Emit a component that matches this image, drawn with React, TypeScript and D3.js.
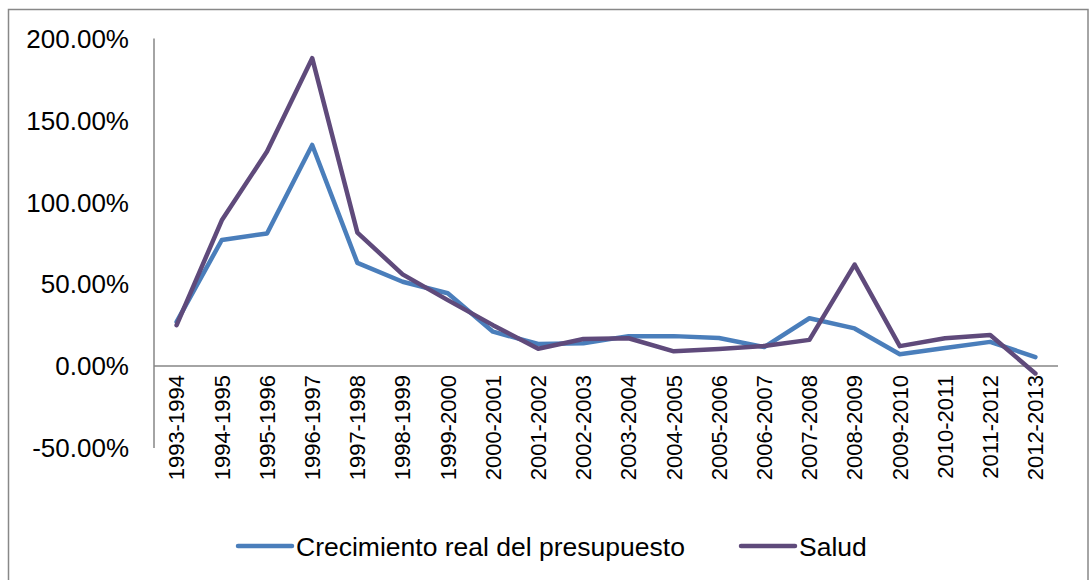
import React from "react";
import * as d3 from "d3";

const categories = [
  "1993-1994", "1994-1995", "1995-1996", "1996-1997", "1997-1998", "1998-1999",
  "1999-2000", "2000-2001", "2001-2002", "2002-2003", "2003-2004", "2004-2005",
  "2005-2006", "2006-2007", "2007-2008", "2008-2009", "2009-2010", "2010-2011",
  "2011-2012", "2012-2013",
];
const crecimiento = [27, 77, 81, 135, 63, 51.5, 44.5, 21, 13.5, 14, 18.3, 18.3, 17.2, 11.6, 29.2, 23, 7.2, 11, 14.8, 5.5];
const salud = [25, 89, 131, 188, 81.5, 56, 40.3, 25, 10.6, 16.5, 17, 9, 10.4, 12.3, 16, 62, 12.2, 17, 19, -4.5];
const yTicks = [-50, 0, 50, 100, 150, 200];

const seriesNames = ["Crecimiento real del presupuesto", "Salud"];
const colors = ["#4A7EBB", "#5F4A7B"];

export default function App() {
  const left = 154, right = 1058, top = 38.5, bottom = 448;
  const x = d3.scaleBand<string>().domain(categories).range([left, right]);
  const y = d3.scaleLinear().domain([-50, 200]).range([bottom, top]);
  const cx = (c: string) => (x(c) as number) + x.bandwidth() / 2;
  const line = d3
    .line<number>()
    .x((_, i) => cx(categories[i]))
    .y((d) => y(d));
  const font = "'Liberation Sans', Arial, sans-serif";
  const series = [crecimiento, salud];

  return (
    <svg
      width={1090}
      height={580}
      style={{ position: "fixed", left: 0, top: 0, background: "#fff" }}
    >
      <rect x={0} y={0} width={1090} height={580} fill="#fff" />
      <rect x={8.5} y={9.5} width={1079.5} height={575} fill="none" stroke="#888" strokeWidth={1.5} />
      {/* y axis */}
      <line x1={left} x2={left} y1={top} y2={bottom} stroke="#868686" strokeWidth={1.5} />
      {yTicks.map((t) => (
        <text
          key={t}
          x={129}
          y={y(t) + 9.2}
          textAnchor="end"
          fontFamily={font}
          fontSize={26}
          fill="#000"
        >
          {t.toFixed(2) + "%"}
        </text>
      ))}
      {/* x axis at 0 */}
      <line x1={left} x2={right} y1={y(0)} y2={y(0)} stroke="#868686" strokeWidth={1.5} />
      {categories.map((c) => (
        <text
          key={c}
          transform={`translate(${cx(c) + 7.8},${y(0) + 9}) rotate(-90)`}
          textAnchor="end"
          fontFamily={font}
          fontSize={22}
          fill="#000"
        >
          {c}
        </text>
      ))}
      {series.map((s, i) => (
        <path
          key={i}
          d={line(s) as string}
          fill="none"
          stroke={colors[i]}
          strokeWidth={4.5}
          strokeLinejoin="round"
          strokeLinecap="round"
        />
      ))}
      {/* legend */}
      {[
        { x0: 238, tx: 296 },
        { x0: 741, tx: 799 },
      ].map((p, i) => (
        <g key={i}>
          <line x1={p.x0} x2={p.x0 + 54} y1={546} y2={546} stroke={colors[i]} strokeWidth={4.5} strokeLinecap="round" />
          <text x={p.tx} y={555.5} fontFamily={font} fontSize={26.5} fill="#000">
            {seriesNames[i]}
          </text>
        </g>
      ))}
    </svg>
  );
}
